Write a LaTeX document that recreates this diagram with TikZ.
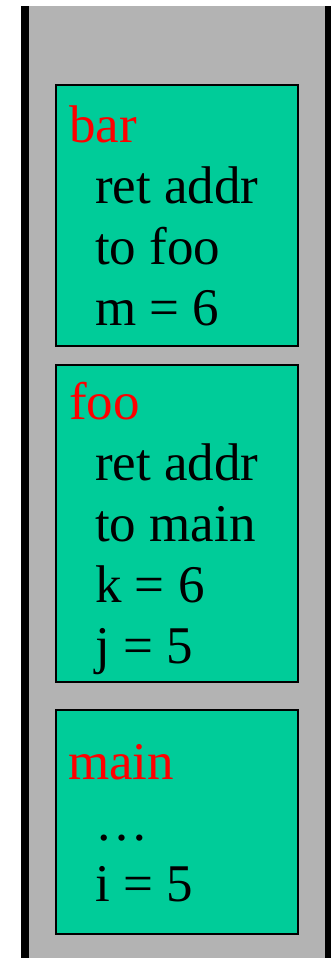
\documentclass[tikz,border=0pt]{standalone}
\usepackage{fontspec}
\setmainfont{Liberation Serif}
\definecolor{framegreen}{RGB}{0,204,153}
\definecolor{stackgray}{RGB}{179,179,179}

\begin{document}
\begin{tikzpicture}[x=1pt, y=-1pt,
    frame/.style={rectangle, draw, line width=1.5pt, fill=framegreen, anchor=north west, minimum width=242pt, inner sep=0pt, outer sep=0pt},
    fname/.style={anchor=base west, inner sep=0pt, text=red, font=\fontsize{53}{61}\selectfont},
    entry/.style={anchor=base west, inner sep=0pt, font=\fontsize{53}{61}\selectfont}]

    \useasboundingbox (0,0) rectangle (331,959);
    % stack background
    \fill[stackgray] (29,6) rectangle (325,958);
    \fill[black] (21,6) rectangle (29,958);
    \fill[black] (325,6) rectangle (331,958);

    % frames
    \node [frame, minimum height=261pt] (barframe) at (56,85) {};
    \node [frame, minimum height=317pt] (fooframe) at (56,365) {};
    \node [frame, minimum height=224pt] (mainframe) at (56,710) {};

    % frame contents
    \node [fname] (barname) at (69,142) {bar};
    \foreach [count=\i] \t in {ret addr, to foo, m = 6}
        \node [entry] (bar-\i) at (95,{142+61*\i}) {\t};

    \node [fname] (fooname) at (69,419) {foo};
    \foreach [count=\i] \t in {ret addr, to main, k = 6, j = 5}
        \node [entry] (foo-\i) at (95,{419+61*\i}) {\t};

    \node [fname] (mainname) at (68,779) {main};
    \foreach [count=\i] \t in {…, i = 5}
        \node [entry] (main-\i) at (95,{779+61*\i}) {\t};
\end{tikzpicture}
\end{document}
